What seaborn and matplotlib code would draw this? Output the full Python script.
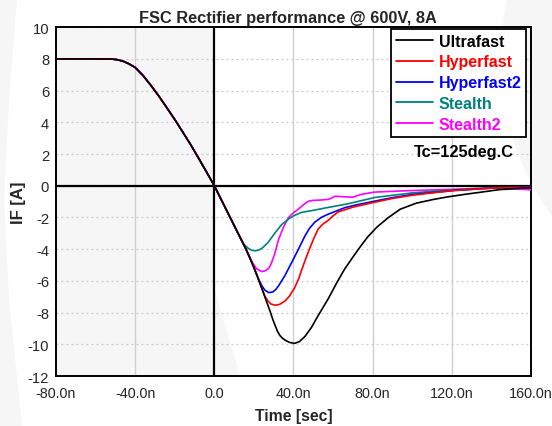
import numpy as np
import pandas as pd
import matplotlib
matplotlib.use("Agg")
import matplotlib.pyplot as plt
import seaborn as sns
from matplotlib.lines import Line2D
from matplotlib.patches import Polygon, Ellipse

# ---- data (time in ns, current in A) ----
pre_t = [-80, -60, -52, -49, -46, -43, -40, -36, -32, -28, -24, -20, -16, -12, -8, -4, 0]
pre_y = [8.0, 8.0, 7.99, 7.95, 7.85, 7.68, 7.46, 6.95, 6.32, 5.65, 4.92, 4.18, 3.4, 2.6, 1.75, 0.88, 0.0]

ultra_t = [4, 8, 12, 16, 19.5, 22.6, 25.5, 28.4, 29.6, 30.8, 32, 33.3, 34.5, 35.8, 38, 40.5, 43, 45.8,
           49, 52.4, 57.4, 61.5, 65.8, 70, 74, 77.4, 82.2, 88, 93.9, 102, 110.8, 118, 127.2, 135,
           143.7, 152, 160]
ultra_y = [-1.0, -2.0, -3.0, -4.0, -5.0, -6.0, -7.0, -8.0, -8.45, -8.84, -9.2, -9.47, -9.62, -9.74,
           -9.88, -9.94, -9.83, -9.5, -8.95, -8.2, -7.16, -6.2, -5.26, -4.5, -3.8, -3.24, -2.6, -2.0,
           -1.48, -1.1, -0.86, -0.7, -0.53, -0.4, -0.25, -0.18, -0.12]

hyper_t = [4, 8, 12, 16, 19.5, 22.6, 25.5, 27, 28.5, 30.8, 33, 35.8, 38, 40.5, 42.5, 45, 47.4, 50,
           52.4, 55, 57.4, 60, 62.4, 70, 81, 90, 100, 110, 121, 140, 160]
hyper_y = [-1.0, -2.0, -3.0, -4.0, -5.0, -6.0, -6.95, -7.25, -7.45, -7.54, -7.48, -7.26, -6.95, -6.45,
           -5.9, -5.0, -4.2, -3.4, -2.74, -2.4, -2.2, -1.9, -1.66, -1.35, -1.04, -0.8, -0.6, -0.45,
           -0.3, -0.15, -0.1]

hyper2_t = [4, 8, 12, 16, 19.5, 22.6, 24, 25.5, 27.5, 29.5, 31, 32.5, 35.5, 39.1, 42.5, 45.8, 48,
            50.7, 54, 57.4, 66, 72, 81, 90, 100, 121, 140, 160]
hyper2_y = [-1.0, -2.0, -3.0, -4.0, -5.0, -5.95, -6.3, -6.58, -6.74, -6.7, -6.55, -6.3, -5.7, -4.84,
            -4.0, -3.16, -2.7, -2.3, -2.0, -1.8, -1.38, -1.2, -0.97, -0.75, -0.55, -0.3, -0.15, -0.1]

stealth_t = [4, 8, 12, 15, 17.5, 19.2, 20.9, 22.5, 24, 27, 30.8, 34, 37.5, 40, 44, 50, 57.4, 67, 74,
             81, 100, 121, 140, 160]
stealth_y = [-1.0, -2.0, -3.0, -3.7, -3.98, -4.08, -4.1, -4.05, -3.95, -3.6, -2.95, -2.45, -2.1,
             -1.9, -1.68, -1.55, -1.37, -1.15, -0.95, -0.74, -0.45, -0.25, -0.12, -0.1]

stealth2_t = [4, 8, 12, 16, 19.5, 21.5, 23.9, 26, 27.5, 28.8, 30.5, 32.5, 35, 37.5, 40, 42.5, 45,
              47.4, 50, 54, 58, 61, 66, 70, 74, 81, 100, 121, 140, 160]
stealth2_y = [-1.0, -2.0, -3.0, -4.0, -4.9, -5.25, -5.41, -5.35, -5.2, -4.9, -4.3, -3.37, -2.6, -2.0,
              -1.7, -1.47, -1.2, -0.98, -0.92, -0.9, -0.85, -0.66, -0.7, -0.72, -0.55, -0.4, -0.3,
              -0.22, -0.15, -0.25]

names = ["Ultrafast", "Hyperfast", "Hyperfast2", "Stealth", "Stealth2"]
colors = ["#000000", "#ff0000", "#0000ff", "#008080", "#ff00ff"]
series = {
    "Ultrafast": (ultra_t, ultra_y),
    "Hyperfast": (hyper_t, hyper_y),
    "Hyperfast2": (hyper2_t, hyper2_y),
    "Stealth": (stealth_t, stealth_y),
    "Stealth2": (stealth2_t, stealth2_y),
}
xticks = [-80, -40, 0, 40, 80, 120, 160]
xtick_labels = ["-80.0n", "-40.0n", "0.0", "40.0n", "80.0n", "120.0n", "160.0n"]
yticks = list(range(-12, 11, 2))

rows = []
for n in names:
    t, y = series[n]
    for tt, yy in zip(pre_t + t, pre_y + y):
        rows.append({"t": tt, "IF": yy, "series": n})
df = pd.DataFrame(rows)

sns.set_style("white")
plt.rcParams["font.family"] = ["Liberation Sans", "DejaVu Sans"]

W, H = 552, 427
fig = plt.figure(figsize=(W / 100, H / 100), dpi=100)
fig.patch.set_facecolor("white")

# faint background watermark (figure pixel coords from top-left)
wm = "#f6f6f6"
def fp(pts):
    return [(x / W, 1 - y / H) for x, y in pts]
fig.add_artist(Polygon(fp([(0, 0), (17, 0), (9, 100), (4, 200), (9, 300), (22, 427), (0, 427)]),
                       closed=True, transform=fig.transFigure, facecolor=wm, edgecolor="none",
                       zorder=-5))
fig.add_artist(Ellipse((930 / W, 1 - 60 / H), 2 * 430 / W, 2 * 330 / H, transform=fig.transFigure,
                       facecolor=wm, edgecolor="none", zorder=-5))

ax = fig.add_axes([0.1014, 0.117, 0.8606, 0.817])
ax.set_facecolor("none")
ax.axvspan(-80, 0, color=wm, lw=0, zorder=-2)
ax.add_patch(Polygon([(0, -6.5), (13, -12), (0, -12)], closed=True, facecolor=wm,
                     edgecolor="none", zorder=-2))

# grid
for x in [-40, 40, 80, 120]:
    ax.axvline(x, color="#cfcfcf", lw=1.0, zorder=0)
for y in yticks:
    ax.axhline(y, color="#c8c8c8", lw=0.9, ls=(0, (1.5, 2.5)), zorder=0)
ax.axvline(0, color="black", lw=1.6, zorder=1)
ax.axhline(0, color="black", lw=1.6, zorder=1)

for n, c in zip(names[::-1], colors[::-1]):
    sub = df[df["series"] == n]
    sns.lineplot(data=sub, x="t", y="IF", color=c, lw=1.2, ax=ax, sort=False,
                 estimator=None, zorder=3)

ax.set_xlim(-80, 160)
ax.set_ylim(-12, 10)
ax.set_xticks(xticks)
ax.set_xticklabels(xtick_labels, fontsize=10.4)
ax.set_yticks(yticks)
ax.set_yticklabels([str(v) for v in yticks], fontsize=10.6)
ax.tick_params(axis="x", length=0, pad=7)
ax.tick_params(axis="y", length=0, pad=5)
for s in ax.spines.values():
    s.set_color("black")
    s.set_linewidth(1.4)

ax.set_title("FSC Rectifier performance @ 600V, 8A", fontsize=11.8, fontweight="bold", pad=4,
             x=0.488)
ax.set_xlabel("Time [sec]", fontsize=11.3, fontweight="bold", labelpad=6)
ax.set_ylabel("IF [A]", fontsize=12, fontweight="bold", labelpad=1)

handles = [Line2D([0], [0], color=c, lw=1.3) for c in colors]
leg = ax.legend(handles, names, loc="upper right", bbox_to_anchor=(0.99, 0.995),
                frameon=True, fancybox=False, edgecolor="black", framealpha=1,
                prop={"size": 11.5, "weight": "bold"}, handlelength=2.3,
                handletextpad=0.35, labelspacing=0.36, borderpad=0.3, borderaxespad=0.0)
leg.get_frame().set_linewidth(1.3)
for txt, c in zip(leg.get_texts(), colors):
    txt.set_color(c)

ax.text(0.859, 0.645, "Tc=125deg.C", transform=ax.transAxes, ha="center", va="center",
        fontsize=11.8, fontweight="bold", color="black")

fig.savefig("out.png", dpi=100)
